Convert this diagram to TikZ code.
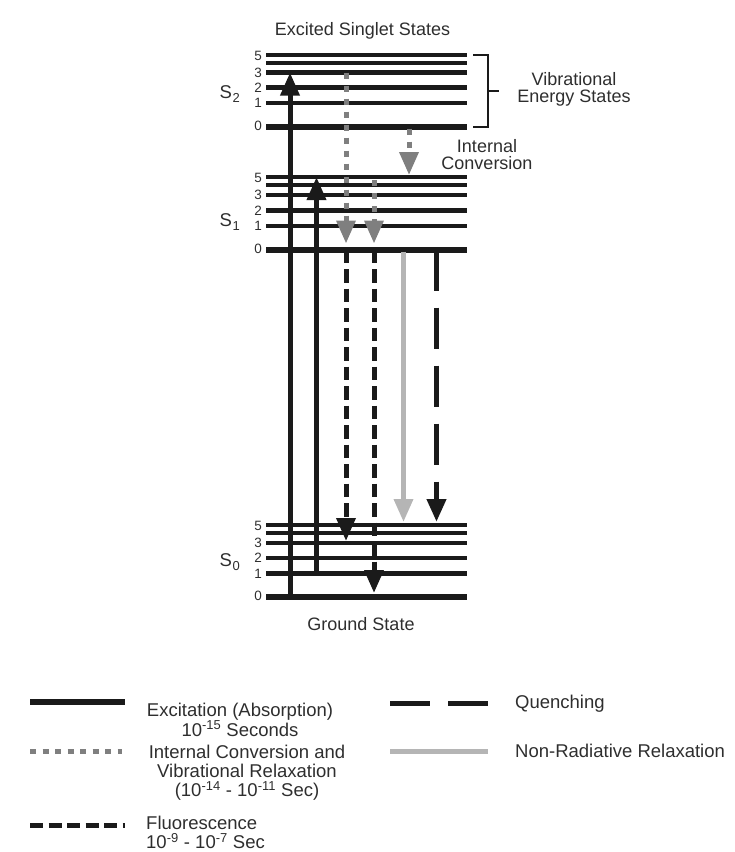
\documentclass[tikz,border=0pt]{standalone}
\usepackage{fontspec}
\setmainfont{Liberation Sans}
\usetikzlibrary{arrows.meta,calc}
\definecolor{ink}{HTML}{1A1A1A}
\definecolor{txt}{HTML}{2E2E2E}
\definecolor{icgray}{HTML}{7F7F7F}
\definecolor{nrgray}{HTML}{B5B5B5}
\begin{document}
\begin{tikzpicture}[x=1pt,y=-1pt,
  level/.style={draw=ink,line width=4.5pt},
  groundlevel/.style={draw=ink,line width=6pt},
  tiphead/.style={-{Triangle[width=18.5pt,length=23pt]}},
  excite/.style={draw=ink,line width=5pt,tiphead},
  icrelax/.style={draw=icgray,line width=5pt,dash pattern=on 6pt off 7pt,tiphead},
  fluor/.style={draw=ink,line width=5pt,dash pattern=on 13.5pt off 6pt,tiphead},
  quench/.style={draw=ink,line width=5.5pt,dash pattern=on 41pt off 17pt,tiphead},
  nonrad/.style={draw=nrgray,line width=5pt,tiphead},
  num/.style={font=\fontsize{13.5}{14}\selectfont,text=txt,anchor=base east,inner sep=0pt},
  lbl/.style={font=\fontsize{18}{17}\selectfont,text=txt,inner sep=0pt,align=center},
  leg/.style={font=\fontsize{18.5}{19}\selectfont,text=txt,inner sep=0pt},
  slabel/.style={font=\fontsize{18.5}{19}\selectfont,text=txt,anchor=base west,inner sep=0pt},
  bracket/.style={draw=ink,line width=2pt},
]
\path[use as bounding box] (0,0) rectangle (735,852);

% level coordinates (left ends)
\coordinate (S2-5) at (266,55);
\coordinate (S2-4) at (266,63);
\coordinate (S2-3) at (266,72.5);
\coordinate (S2-2) at (266,87.5);
\coordinate (S2-1) at (266,103);
\coordinate (S2-0) at (266,126.5);
\coordinate (S1-5) at (266,177);
\coordinate (S1-4) at (266,185);
\coordinate (S1-3) at (266,195);
\coordinate (S1-2) at (266,210.5);
\coordinate (S1-1) at (266,226);
\coordinate (S1-0) at (266,249.5);
\coordinate (S0-5) at (266,525);
\coordinate (S0-4) at (266,533);
\coordinate (S0-3) at (266,543);
\coordinate (S0-2) at (266,558);
\coordinate (S0-1) at (266,573.5);
\coordinate (S0-0) at (266,597);

% levels
\foreach \s in {S2,S1,S0}{
  \foreach \v in {5,4,3,2,1}{
    \draw[level] (\s-\v) -- ++(200.5,0);
  }
  \draw[groundlevel] (\s-0) -- ++(200.5,0);
}

% level numbers
\foreach \s in {S2,S1,S0}{
  \node[num] at ($(\s-5)+(-4,5.5)$) {5};
  \node[num] at ($(\s-3)+(-4,4.8)$) {3};
  \node[num] at ($(\s-2)+(-4,4.8)$) {2};
  \node[num] at ($(\s-1)+(-4,4.8)$) {1};
  \node[num] at ($(\s-0)+(-4,3.8)$) {0};
}

% state labels
\node[slabel] (lS2) at (219.5,98.5) {S\kern0.6pt\raisebox{-3.6pt}{\fontsize{13}{13}\selectfont 2}};
\node[slabel] (lS1) at (219.5,226.7) {S\kern0.6pt\raisebox{-3.6pt}{\fontsize{13}{13}\selectfont 1}};
\node[slabel] (lS0) at (219.5,566.7) {S\kern0.6pt\raisebox{-3.6pt}{\fontsize{13}{13}\selectfont 0}};

% arrow columns
\coordinate (ex1) at (290,0);
\coordinate (ex2) at (316.5,0);
\coordinate (icA) at (346,0);
\coordinate (icB) at (374,0);
\coordinate (icC) at (409,0);
\coordinate (nr) at (403.5,0);
\coordinate (qu) at (436.5,0);

% transitions
\draw[excite] (ex1 |- S0-0) -- (ex1 |- S2-3);
\draw[excite] (ex2 |- S0-1) -- (ex2 |- S1-5);
\draw[icrelax,shorten >=6pt] (icA |- S2-3) -- (icA |- S1-0);
\draw[icrelax,shorten <=3pt,shorten >=6pt] (icB |- S1-5) -- (icB |- S1-0);
\draw[icrelax,shorten <=2pt,shorten >=2pt] (icC |- S2-0) -- (icC |- S1-5);
\draw[fluor,shorten >=2pt] (icA |- S1-0) -- (icA |- S0-3);
\draw[fluor,shorten >=4pt] (icB |- S1-0) -- (icB |- S0-0);
\draw[nonrad,shorten <=2pt,shorten >=3pt] (nr |- S1-0) -- (nr |- S0-5);
\draw[quench,shorten >=3pt] (qu |- S1-0) -- (qu |- S0-5);

% bracket
\coordinate (brT) at (473,55);
\coordinate (brB) at (473,126.5);
\coordinate (brM) at (488,91);
\draw[bracket] (brT) -| (brM) |- (brB);
\draw[bracket] (brM) -- ++(11,0);

% labels
\node[lbl,anchor=base] (title) at (362.5,35) {Excited Singlet States};
\node[lbl,anchor=base] (ground) at (361,630) {Ground State};
\node[lbl,anchor=north] (vib) at (574,72) {Vibrational\\Energy States};
\node[lbl,anchor=north] (intc) at (487,139) {Internal\\Conversion};

% legend
\coordinate (L1a) at (30,702); \coordinate (L1b) at (125,702);
\coordinate (L2a) at (30,751); \coordinate (L2b) at (122,751);
\coordinate (L3a) at (30,825); \coordinate (L3b) at (125,825);
\coordinate (L4a) at (390,703); \coordinate (L4b) at (488,703);
\coordinate (L5a) at (390,751); \coordinate (L5b) at (488,751);
\draw[draw=ink,line width=5.5pt] (L1a) -- (L1b);
\draw[draw=icgray,line width=5pt,dash pattern=on 6pt off 6.5pt] (L2a) -- (L2b);
\draw[draw=ink,line width=5pt,dash pattern=on 13pt off 5.5pt] (L3a) -- (L3b);
\draw[draw=ink,line width=5pt,dash pattern=on 40pt off 18pt] (L4a) -- (L4b);
\draw[draw=nrgray,line width=5pt] (L5a) -- (L5b);

\node[leg,align=center,anchor=north] (t1) at (240,702.5) {Excitation (Absorption)\\10\textsuperscript{-15} Seconds};
\node[leg,align=center,anchor=north] (t2) at (247,745) {Internal Conversion and\\Vibrational Relaxation\\(10\textsuperscript{-14} - 10\textsuperscript{-11} Sec)};
\node[leg,align=left,anchor=north west] (t3) at (146,816) {Fluorescence\\10\textsuperscript{-9} - 10\textsuperscript{-7} Sec};
\node[leg,anchor=base west] (t4) at (515,708) {Quenching};
\node[leg,anchor=base west] (t5) at (515,757) {Non-Radiative Relaxation};
\end{tikzpicture}
\end{document}
